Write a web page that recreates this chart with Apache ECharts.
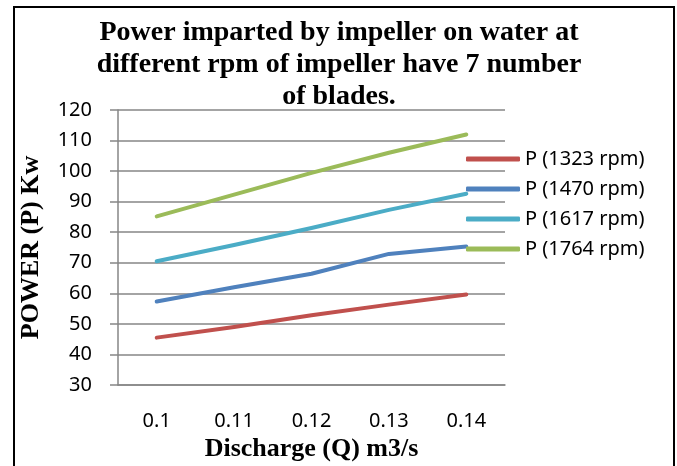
<!DOCTYPE html>
<html>
<head>
<meta charset="utf-8">
<script src="https://cdn.jsdelivr.net/npm/echarts@6/dist/echarts.min.js"></script>
<style>
  html, body { margin: 0; padding: 0; background: #fff; }
  #main { width: 677px; height: 466px; }
</style>
</head>
<body>
<div id="main"></div>
<script>
// discharge values (x categories)
var discharge = ['0.1', '0.11', '0.12', '0.13', '0.14'];
// power at each rpm
var p1323 = [45.5, 49.0, 52.8, 56.3, 59.6];
var p1470 = [57.3, 62.0, 66.4, 72.9, 75.3];
var p1617 = [70.5, 75.8, 81.4, 87.3, 92.6];
var p1764 = [85.2, 92.3, 99.4, 106.0, 112.0];
var seriesNames = ['P (1323 rpm)', 'P (1470 rpm)', 'P (1617 rpm)', 'P (1764 rpm)'];
var seriesColors = ['#C0504D', '#4F81BD', '#4BACC6', '#9BBB59'];

var Chart = echarts.init(document.getElementById('main'));

var sansFont = '"Noto Sans", "Open Sans", sans-serif';
var serifFont = '"Liberation Serif", "DejaVu Serif", serif';

var allData = [p1323, p1470, p1617, p1764];

var option = {
    backgroundColor: '#fff',
    animation: false,
    title: {
        text: 'Power imparted by impeller on water at\ndifferent rpm of impeller have 7 number\nof blades.',
        left: 334,
        top: 12,
        textAlign: 'center',
        textStyle: {
            fontFamily: serifFont,
            fontWeight: 'bold',
            fontSize: 28,
            lineHeight: 32,
            color: '#000'
        }
    },
    legend: {
        orient: 'vertical',
        left: 461,
        top: 144,
        itemWidth: 54,
        itemHeight: 5,
        itemGap: 10,
        icon: 'roundRect',
        data: seriesNames,
        textStyle: {
            fontFamily: sansFont,
            fontSize: 20,
            lineHeight: 20,
            color: '#000',
            padding: [0, 0, 0, 0]
        }
    },
    grid: {
        left: 118,
        right: 172,
        top: 110,
        bottom: 81,
        outerBoundsMode: 'none'
    },
    xAxis: {
        type: 'category',
        data: discharge,
        boundaryGap: true,
        name: 'Discharge (Q) m3/s',
        nameLocation: 'middle',
        nameGap: 47,
        nameTextStyle: {
            fontFamily: serifFont,
            fontWeight: 'bold',
            fontSize: 26,
            color: '#000'
        },
        axisLine: { lineStyle: { color: '#868686', width: 1.5 } },
        axisTick: { alignWithLabel: false, length: 8, lineStyle: { color: '#868686', width: 1.5 } },
        axisLabel: {
            margin: 26,
            fontFamily: sansFont,
            fontSize: 20,
            color: '#000'
        },
        splitLine: { show: false }
    },
    yAxis: {
        type: 'value',
        min: 30,
        max: 120,
        interval: 10,
        name: 'POWER (P) Kw',
        nameLocation: 'middle',
        nameGap: 74,
        nameTextStyle: {
            fontFamily: serifFont,
            fontWeight: 'bold',
            fontSize: 26,
            color: '#000'
        },
        axisLine: { show: true, lineStyle: { color: '#868686', width: 1.5 } },
        axisTick: { show: true, length: 8, lineStyle: { color: '#868686', width: 1.5 } },
        axisLabel: {
            margin: 26,
            fontFamily: sansFont,
            fontSize: 20,
            color: '#000'
        },
        splitLine: { lineStyle: { color: '#868686', width: 1.5 } }
    },
    graphic: [
        {
            type: 'rect',
            shape: { x: 14, y: 7, width: 660, height: 480 },
            style: { fill: 'none', stroke: '#000', lineWidth: 2 },
            silent: true
        }
    ],
    series: seriesNames.map(function (name, i) {
        return {
            name: name,
            type: 'line',
            data: allData[i],
            showSymbol: false,
            symbol: 'none',
            itemStyle: { color: seriesColors[i] },
            lineStyle: { color: seriesColors[i], width: 4, cap: 'round', join: 'round' }
        };
    })
};

Chart.setOption(option);
</script>
</body>
</html>
